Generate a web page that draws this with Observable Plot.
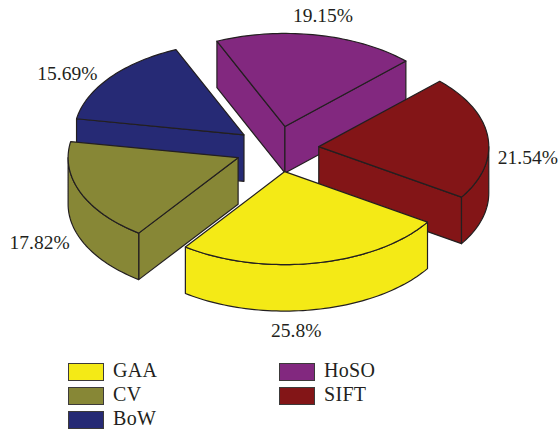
<!DOCTYPE html>
<html>
<head>
<meta charset="utf-8">
<script src="https://cdn.jsdelivr.net/npm/d3@7"></script>
<script src="https://cdn.jsdelivr.net/npm/@observablehq/plot@0.6"></script>
<style>
  html, body { margin: 0; padding: 0; background: #fff; }
  #chart svg { display: block; }
  #legend {
    display: grid;
    grid-template-rows: repeat(3, 24px);
    grid-auto-flow: column;
    grid-template-columns: 211px 211px;
    padding: 8px 0 0 68px;
    font: 20px "Liberation Serif", serif;
    color: #231f20;
  }
  #legend div { display: flex; align-items: center; gap: 9px; letter-spacing: 0.3px; }
  #legend i { display: block; box-sizing: border-box; width: 36px; height: 18px; border: 1.5px solid #3c3a3a; }
  #legend span { position: relative; top: -2px; }
</style>
</head>
<body>
<div id="chart"></div>
<div id="legend"></div>
<script>
// Share of each method, in percent, in clockwise order starting at the front slice.
const methods = ["GAA", "CV", "BoW", "HoSO", "SIFT"];
const shares = [25.8, 17.82, 15.69, 19.15, 21.54];
const colors = ["#f4ea16", "#878736", "#262a75", "#82287f", "#831517"];

// Solid pie geometry: centre, ellipse radii, wall depth, explode fraction, first slice angle.
const pie = {cx: 276.5, cy: 148.5, rx: 170, ry: 93, depth: 46.5, explode: 0.247, start: -57.1};
// Back-to-front painting order.
const paintOrder = ["HoSO", "BoW", "CV", "SIFT", "GAA"];
// Label offset from each slice's rim midpoint.
const labelNudge = {GAA: [-20, 68], CV: [-41, 50], BoW: [-43, -4], HoSO: [6, -19], SIFT: [40, 21]};

const W = 560, H = 352;
const rad = (deg) => (deg * Math.PI) / 180;
// Angle 0 points at the viewer and grows clockwise on screen.
const onRim = (apex, deg, drop = 0) => [
  apex[0] - pie.rx * Math.sin(rad(deg)),
  apex[1] + pie.ry * Math.cos(rad(deg)) + drop
];

let running = pie.start;
const slices = methods.map((method, i) => {
  const a0 = running;
  const a1 = a0 + (shares[i] / 100) * 360;
  running = a1;
  const mid = (a0 + a1) / 2;
  const apex = [
    pie.cx + pie.explode * pie.rx * -Math.sin(rad(mid)),
    pie.cy + pie.explode * pie.ry * Math.cos(rad(mid))
  ];
  return {method, share: shares[i], a0, a1, mid, apex};
});

const arc = (apex, from, to, drop = 0) => {
  const n = Math.max(2, Math.ceil(Math.abs(to - from) / 1.5));
  return d3.range(n + 1).map((k) => onRim(apex, from + ((to - from) * k) / n, drop));
};

// Each face becomes a closed ring of points, grouped by its id.
const rows = [];
const addFace = (id, method, ring) => {
  [...ring, ring[0]].forEach(([x, y]) => rows.push({id, method, x, y}));
};

for (const name of paintOrder) {
  const s = slices.find((d) => d.method === name);
  const down = [s.apex[0], s.apex[1] + pie.depth];

  // Cut faces that turn toward the viewer.
  if (Math.sin(rad(s.a0)) > 0) {
    addFace(name + "-cut0", name, [s.apex, onRim(s.apex, s.a0), onRim(s.apex, s.a0, pie.depth), down]);
  }
  if (Math.sin(rad(s.a1)) < 0) {
    addFace(name + "-cut1", name, [s.apex, onRim(s.apex, s.a1), onRim(s.apex, s.a1, pie.depth), down]);
  }

  // Outer wall: only the stretch on the near half of the ellipse shows.
  for (const turn of [0, 360]) {
    const from = Math.max(s.a0, turn - 90);
    const to = Math.min(s.a1, turn + 90);
    if (to > from) {
      addFace(name + "-rim" + turn, name, [
        ...arc(s.apex, from, to),
        ...arc(s.apex, to, from, pie.depth)
      ]);
    }
  }

  // Top face.
  addFace(name + "-top", name, [s.apex, ...arc(s.apex, s.a0, s.a1)]);
}

const labels = slices.map((s) => {
  const [x, y] = onRim(s.apex, s.mid);
  const [nx, ny] = labelNudge[s.method];
  return {text: `${s.share}%`, x: x + nx, y: y + ny};
});

const chart = Plot.plot({
  width: W,
  height: H,
  margin: 0,
  x: {domain: [0, W], range: [0, W], axis: null},
  y: {domain: [0, H], range: [0, H], axis: null},
  color: {domain: methods, range: colors},
  style: {background: "#fff"},
  marks: [
    Plot.line(rows, {
      x: "x",
      y: "y",
      z: "id",
      fill: "method",
      stroke: "#231f20",
      strokeWidth: 1.2,
      strokeLinejoin: "round",
      curve: "linear"
    }),
    Plot.text(labels, {
      x: "x",
      y: "y",
      text: "text",
      fontFamily: "Liberation Serif",
      fontSize: 19.5,
      fill: "#231f20"
    })
  ]
});
document.getElementById("chart").append(chart);

// Legend below the plot, filled in column order.
const legend = document.getElementById("legend");
methods.forEach((m, i) => {
  const row = document.createElement("div");
  const box = document.createElement("i");
  box.style.background = colors[i];
  const name = document.createElement("span");
  name.textContent = m;
  row.append(box, name);
  legend.append(row);
});
</script>
</body>
</html>
